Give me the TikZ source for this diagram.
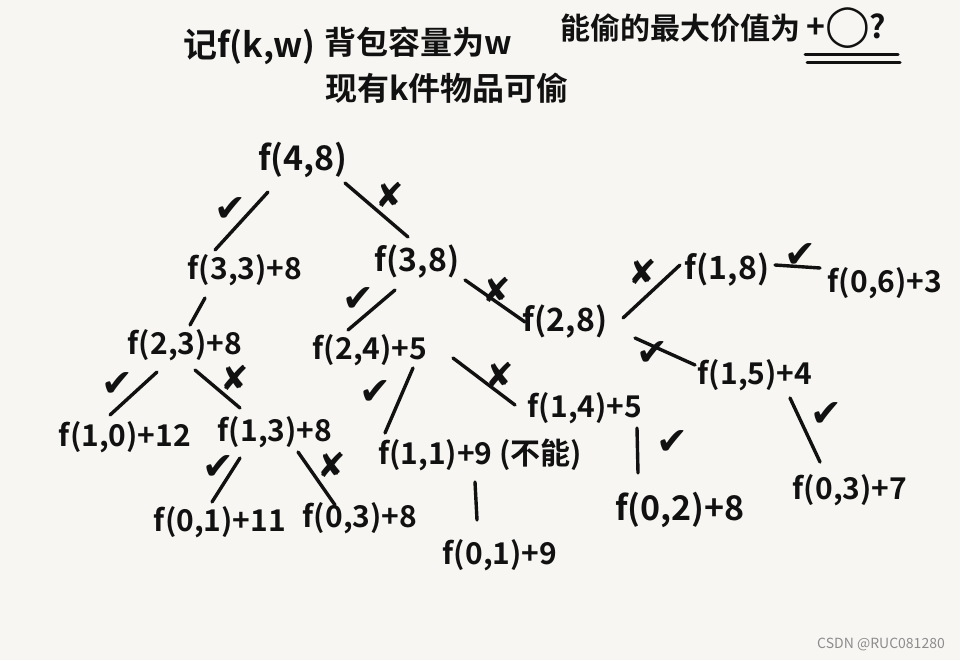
\documentclass[tikz,border=0pt]{standalone}
\usepackage{fontspec}
\usetikzlibrary{calc}
\setmainfont{Noto Sans CJK SC}[BoldFont={* Bold}]
\newfontfamily\symf{DejaVu Sans}
\definecolor{paper}{HTML}{F7F6F3}
\definecolor{ink}{HTML}{111111}
\begin{document}
\begin{tikzpicture}[x=1pt,y=-1pt,
  fn/.style={font=\bfseries\fontsize{30}{32}\selectfont, text=ink, inner sep=2pt},
  hd/.style={font=\bfseries\fontsize{32}{34}\selectfont, text=ink, inner sep=0pt, anchor=west},
  br/.style={draw=ink, line width=3.4pt, line cap=round},
  yes/.style={font=\symf\fontsize{38}{38}\selectfont, text=ink, inner sep=0pt},
  no/.style={font=\symf\fontsize{34}{34}\selectfont, text=ink, inner sep=0pt}]
\fill[paper] (0,0) rectangle (960,660);
\useasboundingbox (0,0) rectangle (960,660);
% header
\node[hd, font=\bfseries\fontsize{34}{36}\selectfont] (h1) at (183,47) {记f(k,w)};
\node[hd] (h2) at (324,42) {背包容量为w};
\node[hd] (h3) at (325,88) {现有k件物品可偷};
\node[hd, font=\bfseries\fontsize{30}{32}\selectfont] (h4) at (560,28) {能偷的最大价值为};
\node[hd, font=\bfseries\fontsize{32}{34}\selectfont] (h5) at (806,28) {+{\symf\fontsize{40}{40}\selectfont ◯}?};
\coordinate (u1) at (805,55); \coordinate (u2) at (898,55);
\coordinate (u3) at (807,63); \coordinate (u4) at (900,63);
\draw[ink, line width=3pt, line cap=round] (u1) -- (u2);
\draw[ink, line width=3pt, line cap=round] (u3) -- (u4);
% nodes
\node[fn, font=\bfseries\fontsize{34}{36}\selectfont] (r) at (303,160) {f(4,8)};
\node[fn] (a) at (245,270) {f(3,3)+8};
\node[fn, font=\bfseries\fontsize{32}{34}\selectfont] (b) at (417,262) {f(3,8)};
\node[fn] (c) at (185,345) {f(2,3)+8};
\node[fn] (d) at (370,350) {f(2,4)+5};
\node[fn, font=\bfseries\fontsize{32}{34}\selectfont] (e) at (565,322) {f(2,8)};
\node[fn] (g) at (125,437) {f(1,0)+12};
\node[fn] (h) at (275,432) {f(1,3)+8};
\node[fn] (i) at (220,522) {f(0,1)+11};
\node[fn] (j) at (360,518) {f(0,3)+8};
\node[fn] (k) at (480,455) {f(1,1)+9 (不能)};
\node[fn] (l) at (585,408) {f(1,4)+5};
\node[fn] (m) at (500,555) {f(0,1)+9};
\node[fn, font=\bfseries\fontsize{34}{36}\selectfont] (n) at (680,510) {f(0,2)+8};
\node[fn, font=\bfseries\fontsize{32}{34}\selectfont] (o) at (727,270) {f(1,8)};
\node[fn] (p) at (885,283) {f(0,6)+3};
\node[fn] (q) at (755,375) {f(1,5)+4};
\node[fn] (s) at (850,490) {f(0,3)+7};
% edges
\draw[br] ($(r)+(-35,32)$) -- ($(a)+(-30,-20)$);
\draw[br] ($(r)+(42,23)$) -- ($(b)+(-9,-25)$);
\draw[br] ($(a)+(-40,28)$) -- ($(c)+(5,-20)$);
\draw[br] ($(c)+(-28,27)$) -- ($(g)+(-15,-22)$);
\draw[br] ($(c)+(10,25)$) -- ($(h)+(-35,-24)$);
\draw[br] ($(h)+(-35,26)$) -- ($(i)+(-8,-20)$);
\draw[br] ($(h)+(23,20)$) -- ($(j)+(-25,-13)$);
\draw[br] ($(b)+(-22,28)$) -- ($(d)+(-22,-20)$);
\draw[br] ($(b)+(48,18)$) -- ($(e)+(-40,0)$);
\draw[br] ($(d)+(43,18)$) -- ($(k)+(-95,-22)$);
\draw[br] ($(d)+(83,8)$) -- ($(l)+(-70,-3)$);
\draw[br] ($(k)+(-5,27)$) -- ($(m)+(-23,-35)$);
\draw[br] ($(l)+(52,20)$) -- ($(n)+(-42,-37)$);
\draw[br] ($(e)+(58,-4)$) -- ($(o)+(-47,-5)$);
\draw[br] ($(e)+(70,16)$) -- ($(q)+(-60,-10)$);
\draw[br] ($(o)+(48,-5)$) -- ($(p)+(-65,-15)$);
\draw[br] ($(q)+(35,23)$) -- ($(s)+(-30,-28)$);
% edge labels
\node[yes] (l1) at (230,210) {✔};
\node[no] (l2) at (390,195) {✘};
\node[yes] (l3) at (117,385) {✔};
\node[no] (l4) at (235,378) {✘};
\node[yes] (l5) at (218,468) {✔};
\node[no] (l6) at (332,465) {✘};
\node[yes] (l7) at (358,300) {✔};
\node[no] (l8) at (497,290) {✘};
\node[yes] (l9) at (375,393) {✔};
\node[no] (l10) at (500,375) {✘};
\node[yes] (l11) at (672,443) {✔};
\node[no] (l12) at (643,272) {✘};
\node[yes] (l13) at (652,354) {✔};
\node[yes] (l14) at (800,256) {✔};
\node[yes] (l15) at (826,415) {✔};
% watermark
\node[font=\fontsize{14}{15}\selectfont, text=black!45, anchor=east, inner sep=0pt] (wm) at (945,644) {CSDN @RUC081280};
\end{tikzpicture}
\end{document}
